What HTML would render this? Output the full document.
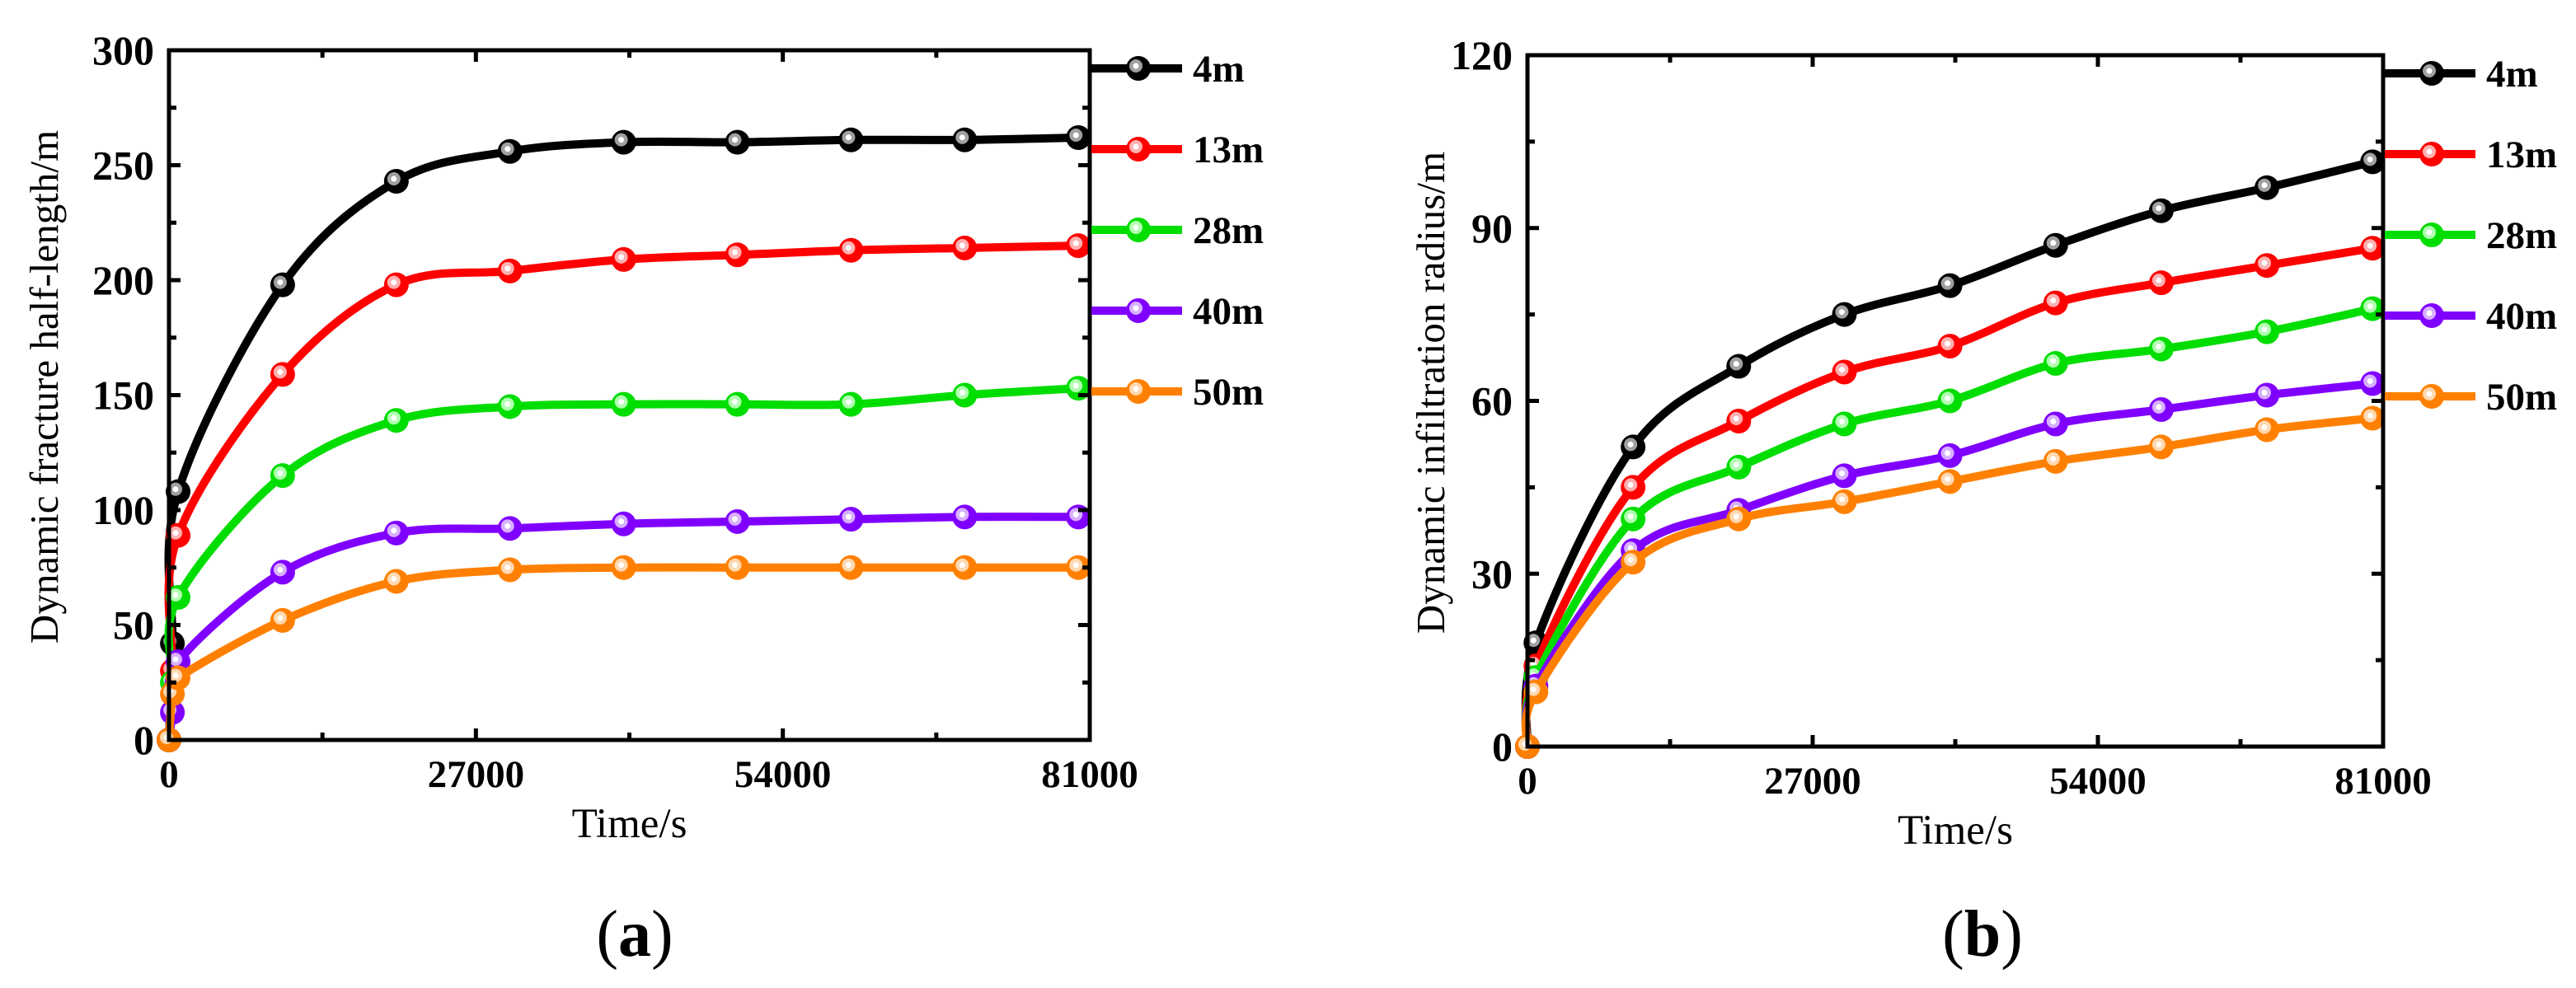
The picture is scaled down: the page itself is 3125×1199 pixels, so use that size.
<!DOCTYPE html>
<html><head><meta charset="utf-8"><style>
html,body{margin:0;padding:0;background:#fff;}
svg{display:block;font-family:"Liberation Serif","Times New Roman",serif;}
</style></head><body>
<svg id="root" width="3125" height="1199" viewBox="0 0 3125 1199" xmlns="http://www.w3.org/2000/svg">
<g id="chartA"></g>
<g id="chartB"></g>
</svg>
<script>
// ---- shared data ----
const seriesNames = ["4m","13m","28m","40m","50m"];
const seriesColors = ["#000000","#ff0000","#00dd00","#8000ff","#ff8000"];
const hiColors = ["#a0a0a0","#ffb0b0","#b0ffb0","#d8b0ff","#ffd8b0"];
const xTicks = [0,27000,54000,81000];
const xTickLabels = ["0","27000","54000","81000"];

// ---- chart (a) data ----
const timesA = [0,300,800,10000,20000,30000,40000,50000,60000,70000,80000];
const a4 = [0,42,108,198,243,256,260,260,261,261,262];
const a13 = [0,30,89,159,198,204,209,211,213,214,215];
const a28 = [0,25,62,115,139,145,146,146,146,150,153];
const a40 = [0,12,34,73,90,92,94,95,96,97,97];
const a50 = [0,20,27,52,69,74,75,75,75,75,75];
const yTicksA = [0,50,100,150,200,250,300];
const yTickLabelsA = ["0","50","100","150","200","250","300"];

// ---- chart (b) data ----
const timesB = [0,800,10000,20000,30000,40000,50000,60000,70000,80000];
const b4 = [0,18,52,66,75,80,87,93,97,101.5];
const b13 = [0,14,45,56.5,65,69.5,77,80.5,83.5,86.5];
const b28 = [0,12,39.5,48.5,56,60,66.5,69,72,76];
const b40 = [0,10.5,34,41,47,50.5,56,58.5,61,63];
const b50 = [0,9.5,32,39.5,42.5,46,49.5,52,55,57];
const yTicksB = [0,30,60,90,120];
const yTickLabelsB = ["0","30","60","90","120"];

const NS="http://www.w3.org/2000/svg";
function mk(parent,tag,attrs){const e=document.createElementNS(NS,tag);for(const k in attrs)e.setAttribute(k,attrs[k]);parent.appendChild(e);return e;}

function smoothPath(pts){
  let d="M"+pts[0][0]+","+pts[0][1];
  for(let i=0;i<pts.length-1;i++){
    const p0=pts[Math.max(0,i-1)],p1=pts[i],p2=pts[i+1],p3=pts[Math.min(pts.length-1,i+2)];
    const c1x=p1[0]+(p2[0]-p0[0])/6,c1y=p1[1]+(p2[1]-p0[1])/6;
    const c2x=p2[0]-(p3[0]-p1[0])/6,c2y=p2[1]-(p3[1]-p1[1])/6;
    d+=" C"+c1x+","+c1y+" "+c2x+","+c2y+" "+p2[0]+","+p2[1];
  }
  return d;
}

function marker(g,x,y,i){
  const m=mk(g,"g",{});
  
  
  mk(m,"circle",{cx:x,cy:y,r:15,fill:seriesColors[i]});
  mk(m,"circle",{cx:x-3,cy:y-3,r:8,fill:hiColors[i]});
  mk(m,"circle",{cx:x-3,cy:y-3,r:3.5,fill:"#ffffff"});
}

function drawChart(g,cfg){
  const L=cfg.L,R=cfg.R,T=cfg.T,B=cfg.B;
  const sx=v=>L+(v-0)/81000*(R-L);
  const sy=v=>B-(v-0)/cfg.ymax*(B-T);
  cfg.series.forEach((vals,i)=>{
    const sg=mk(g,"g",{});
    
    
    const pts=vals.map((v,k)=>[sx(cfg.times[k]),sy(v)]);
    const p=mk(sg,"path",{d:smoothPath(pts),fill:"none",stroke:seriesColors[i],"stroke-width":10,"stroke-linejoin":"round","stroke-linecap":"round"});
    
    
    pts.forEach(pt=>marker(sg,pt[0],pt[1],i));
  });
  const fr=mk(g,"rect",{x:L,y:T,width:R-L,height:B-T,fill:"none",stroke:"#000","stroke-width":5});
  
  
  const xt=mk(g,"g",{});
  
  
  for(let v=0;v<=81000;v+=13500){
    const major=(v%27000===0),len=major?14:9,x=sx(v);
    mk(xt,"line",{x1:x,y1:B,x2:x,y2:B-len,stroke:"#000","stroke-width":5});
    mk(xt,"line",{x1:x,y1:T,x2:x,y2:T+len,stroke:"#000","stroke-width":5});
  }
  xTicks.forEach((v,k)=>{
    const t=mk(xt,"text",{x:sx(v),y:B+57,"text-anchor":"middle","font-size":47,"font-weight":"bold"});
    
    
    t.textContent=xTickLabels[k];
  });
  const yt=mk(g,"g",{});
  
  
  const step=cfg.yTicks[1]-cfg.yTicks[0];
  for(let v=0;v<=cfg.ymax+1e-9;v+=step/2){
    const major=(Math.abs(v/step-Math.round(v/step))<1e-6),len=major?14:9,y=sy(v);
    mk(yt,"line",{x1:L,y1:y,x2:L+len,y2:y,stroke:"#000","stroke-width":5});
    mk(yt,"line",{x1:R,y1:y,x2:R-len,y2:y,stroke:"#000","stroke-width":5});
  }
  cfg.yTicks.forEach((v,k)=>{
    const t=mk(yt,"text",{x:L-18,y:sy(v)+17,"text-anchor":"end","font-size":50,"font-weight":"bold"});
    
    
    t.textContent=cfg.yTickLabels[k];
  });
  const xtl=mk(g,"text",{x:(L+R)/2,y:B+118,"text-anchor":"middle","font-size":51});
  
  
  xtl.textContent="Time/s";
  const ytl=mk(g,"text",{x:0,y:0,"text-anchor":"middle","font-size":49,transform:"translate("+cfg.ytx+","+((T+B)/2-10)+") rotate(-90)"});
  
  
  ytl.textContent=cfg.ytitle;
  const lg=mk(g,"g",{});
  
  
  seriesNames.forEach((n,i)=>{
    const eg=mk(lg,"g",{});
    
    
    const y=cfg.T+22+i*98;
    mk(eg,"line",{x1:R+2,y1:y,x2:R+112,y2:y,stroke:seriesColors[i],"stroke-width":10});
    marker(eg,R+59,y,i);
    const t=mk(eg,"text",{x:R+125,y:y+16,"font-size":47,"font-weight":"bold"});
    t.textContent=n;
  });
  const pl=mk(g,"text",{x:cfg.labx,y:1160,"text-anchor":"middle","font-size":80});
  
  
  const s1=mk(pl,"tspan",{});s1.textContent="(";
  const s2=mk(pl,"tspan",{"font-weight":"bold"});s2.textContent=cfg.lab;
  const s3=mk(pl,"tspan",{});s3.textContent=")";
}

drawChart(document.getElementById("chartA"),{L:205,R:1322,T:61,B:898,ymax:300,times:timesA,
  series:[a4,a13,a28,a40,a50],yTicks:yTicksA,yTickLabels:yTickLabelsA,
  ytitle:"Dynamic fracture half-length/m",ytx:70,labx:770,lab:"a"});
drawChart(document.getElementById("chartB"),{L:1853,R:2891,T:67,B:906,ymax:120,times:timesB,
  series:[b4,b13,b28,b40,b50],yTicks:yTicksB,yTickLabels:yTickLabelsB,
  ytitle:"Dynamic infiltration radius/m",ytx:1752,labx:2405,lab:"b"});
</script>
</body></html>
